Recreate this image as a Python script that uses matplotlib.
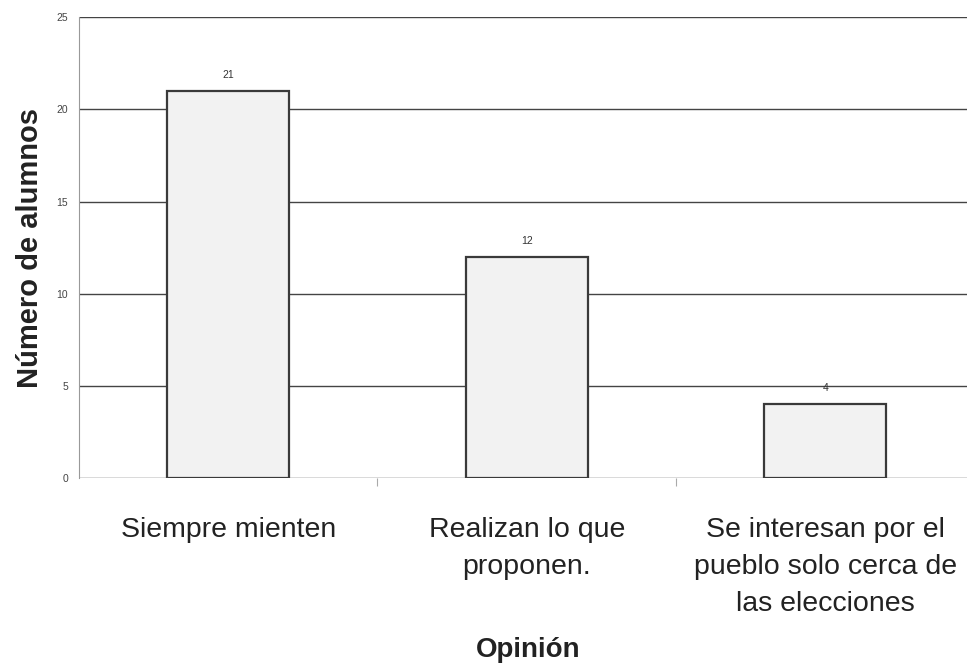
import matplotlib.pyplot as plt

plt.rcParams['font.family'] = ['Liberation Sans', 'DejaVu Sans']

opiniones = ["Siempre mienten", "Realizan lo que\nproponen.",
             "Se interesan por el\npueblo solo cerca de\nlas elecciones"]
alumnos = [21, 12, 4]
y_ticks = [0, 5, 10, 15, 20, 25]

fig = plt.figure(figsize=(9.67, 6.63), dpi=100)
ax = fig.add_axes([0.0817, 0.279, 0.926, 0.695])

x = range(len(opiniones))
ax.bar(x, alumnos, width=0.41, color="#f2f2f2", edgecolor="#3a3a3a",
       linewidth=1.6, zorder=3)
for xi, v in zip(x, alumnos):
    ax.text(xi, v + 0.6, str(v), ha="center", va="bottom", fontsize=7.5, color="#333333")

ax.set_xlim(-0.5, 2.5)
ax.set_ylim(0, 25)
ax.set_yticks(y_ticks)
ax.yaxis.grid(True, color="#444444", linewidth=1.0, zorder=0)
ax.tick_params(axis="y", length=0, labelsize=7.5, labelcolor="#444444", pad=8)

ax.set_xticks(list(x))
ax.set_xticklabels(opiniones, fontsize=20.5, color="#222222", linespacing=1.55)
ax.tick_params(axis="x", length=0, pad=28)
ax.set_xticks([0.5, 1.5], minor=True)
ax.tick_params(axis="x", which="minor", length=6, color="#aaaaaa", width=0.8)

for s in ["top", "right", "bottom"]:
    ax.spines[s].set_visible(False)
ax.spines["left"].set_color("#999999")
ax.spines["left"].set_linestyle((0, (3, 1)))

ax.set_ylabel("Número de alumnos", fontsize=21, fontweight="bold", color="#222222", labelpad=9)
fig.text(0.546, 0.0, "Opinión", ha="center", va="bottom", fontsize=20,
         fontweight="bold", color="#222222")

fig.savefig("out.png", dpi=100)
